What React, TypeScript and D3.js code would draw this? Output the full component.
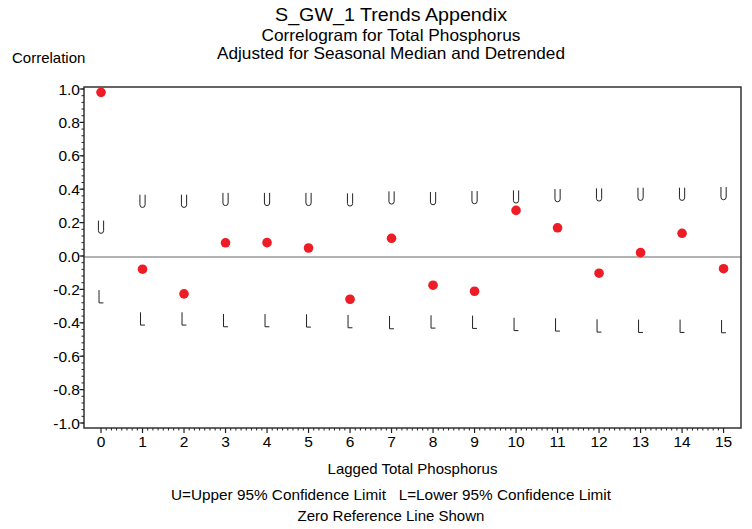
import React, { useEffect, useRef } from 'react';
import * as d3 from 'd3';

// lag number on the x axis
const lags = [0, 1, 2, 3, 4, 5, 6, 7, 8, 9, 10, 11, 12, 13, 14, 15];
// autocorrelation of the adjusted series at each lag
const correlation = [0.98, -0.079, -0.227, 0.079, 0.08, 0.048, -0.259, 0.106, -0.175, -0.211, 0.273, 0.169, -0.103, 0.02, 0.136, -0.076];
// 95% confidence limits (U / L markers)
const upperLimit = [0.173, 0.328, 0.328, 0.339, 0.339, 0.339, 0.336, 0.348, 0.344, 0.35, 0.354, 0.362, 0.366, 0.37, 0.37, 0.374];
const lowerLimit = [-0.243, -0.376, -0.376, -0.386, -0.386, -0.388, -0.392, -0.398, -0.394, -0.396, -0.409, -0.412, -0.418, -0.42, -0.42, -0.422];
const yTicks = [-1.0, -0.8, -0.6, -0.4, -0.2, 0.0, 0.2, 0.4, 0.6, 0.8, 1.0];

const titles = [
  'S_GW_1 Trends Appendix',
  'Correlogram for Total Phosphorus',
  'Adjusted for Seasonal Median and Detrended',
];

const FONT = "'Liberation Sans', Arial, Helvetica, sans-serif";

const Correlogram: React.FC = () => {
  const svgRef = useRef<SVGSVGElement>(null);

  useEffect(() => {
    if (!svgRef.current) return;
    d3.select(svgRef.current).selectAll('*').remove();

    const width = 752;
    const height = 529;
    const plot = { left: 84, right: 741, top: 87, bottom: 428 };

    const svg = d3.select(svgRef.current)
      .attr('width', width)
      .attr('height', height)
      .style('font-family', FONT);

    svg.append('rect')
      .attr('width', width)
      .attr('height', height)
      .attr('fill', '#fff');

    const x = d3.scaleLinear().domain([-0.41, 15.42]).range([plot.left, plot.right]);
    const y = d3.scaleLinear().domain([-1, 1]).range([423, 89]);

    // titles (SAS fonts run a bit wide, so pin the widths)
    const titleSizes = [19, 16.5, 16.5];
    const titleY = [21, 41, 59];
    const titleW = [232, 259, 348];
    titles.forEach((t, i) => {
      svg.append('text')
        .attr('x', 391)
        .attr('y', titleY[i])
        .attr('text-anchor', 'middle')
        .attr('textLength', titleW[i])
        .attr('lengthAdjust', 'spacingAndGlyphs')
        .style('font-size', `${titleSizes[i]}px`)
        .style('fill', '#000')
        .text(t);
    });

    // y axis label
    svg.append('text')
      .attr('x', 12)
      .attr('y', 63)
      .style('font-size', '15px')
      .text('Correlation');

    // zero reference line
    svg.append('line')
      .attr('x1', plot.left)
      .attr('x2', plot.right)
      .attr('y1', y(0) + 1)
      .attr('y2', y(0) + 1)
      .style('stroke', '#999')
      .style('stroke-width', 1.5);

    // frame
    svg.append('rect')
      .attr('x', plot.left)
      .attr('y', plot.top)
      .attr('width', plot.right - plot.left)
      .attr('height', plot.bottom - plot.top)
      .style('fill', 'none')
      .style('stroke', '#333')
      .style('stroke-width', 1.5);

    // y ticks: majors every 0.2, minors every 0.04
    const yMinor = d3.range(-1, 1.0001, 0.04);
    yMinor.forEach(v => {
      svg.append('line')
        .attr('x1', plot.left - 2.5).attr('x2', plot.left)
        .attr('y1', y(v)).attr('y2', y(v))
        .style('stroke', '#222').style('stroke-width', 1);
    });
    yTicks.forEach(v => {
      svg.append('line')
        .attr('x1', plot.left - 4.5).attr('x2', plot.left)
        .attr('y1', y(v)).attr('y2', y(v))
        .style('stroke', '#222').style('stroke-width', 1.2);
      svg.append('text')
        .attr('x', plot.left - 4)
        .attr('y', y(v))
        .attr('dy', '0.36em')
        .attr('text-anchor', 'end')
        .style('font-size', '15.5px')
        .text(v.toFixed(1));
    });

    // x ticks: majors at each lag, 7 minors between
    for (let i = 0; i < lags.length - 1; i++) {
      for (let k = 1; k < 8; k++) {
        const v = lags[i] + k / 8;
        svg.append('line')
          .attr('x1', x(v)).attr('x2', x(v))
          .attr('y1', plot.bottom).attr('y2', plot.bottom + 2.5)
          .style('stroke', '#222').style('stroke-width', 1);
      }
    }
    lags.forEach(l => {
      svg.append('line')
        .attr('x1', x(l)).attr('x2', x(l))
        .attr('y1', plot.bottom).attr('y2', plot.bottom + 5)
        .style('stroke', '#222').style('stroke-width', 1.2);
      svg.append('text')
        .attr('x', x(l))
        .attr('y', 447)
        .attr('text-anchor', 'middle')
        .style('font-size', '15.5px')
        .text(l);
    });

    // x axis label
    svg.append('text')
      .attr('x', (plot.left + plot.right) / 2)
      .attr('y', 474)
      .attr('text-anchor', 'middle')
      .style('font-size', '15px')
      .text('Lagged Total Phosphorus');

    // confidence limit markers drawn as thin U / L glyphs
    const uPath = 'M -2.6 -6.5 V 3.6 A 2.6 2.6 0 0 0 2.6 3.6 V -6.5';
    const lPath = 'M -2 -6.5 V 6.3 H 2.4';
    lags.forEach((l, i) => {
      svg.append('path')
        .attr('d', uPath)
        .attr('transform', `translate(${x(l)},${y(upperLimit[i])})`)
        .style('fill', 'none').style('stroke', '#222').style('stroke-width', 1);
      svg.append('path')
        .attr('d', lPath)
        .attr('transform', `translate(${x(l)},${y(lowerLimit[i])})`)
        .style('fill', 'none').style('stroke', '#222').style('stroke-width', 1);
    });

    // correlation points
    svg.selectAll('circle.pt')
      .data(correlation)
      .enter()
      .append('circle')
      .attr('class', 'pt')
      .attr('cx', (_, i) => x(lags[i]))
      .attr('cy', d => y(d))
      .attr('r', 4.8)
      .style('fill', '#ee1c24');

    // footnotes
    svg.append('text')
      .attr('x', 391)
      .attr('y', 500)
      .attr('text-anchor', 'middle')
      .attr('textLength', 440)
      .attr('lengthAdjust', 'spacingAndGlyphs')
      .style('font-size', '15px')
      .style('white-space', 'pre')
      .text('U=Upper 95% Confidence Limit\u00a0\u00a0\u00a0L=Lower 95% Confidence Limit');
    svg.append('text')
      .attr('x', 391)
      .attr('y', 521)
      .attr('text-anchor', 'middle')
      .style('font-size', '15px')
      .text('Zero Reference Line Shown');
  }, []);

  return <svg ref={svgRef} style={{ position: 'absolute', left: 0, top: 0 }} />;
};

export default function App() {
  return <Correlogram />;
}
